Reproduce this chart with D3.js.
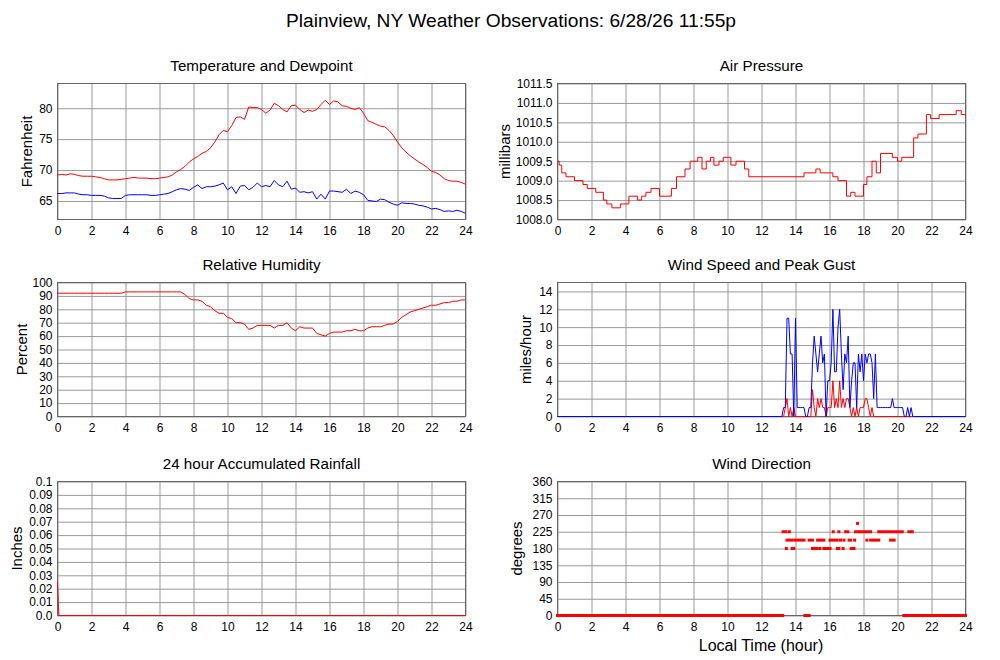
<!DOCTYPE html>
<html lang="en">
<head>
<meta charset="UTF-8" />
<title>Plainview, NY Weather Observations</title>
<style>
  body { margin: 0; background: #fff; }
  svg { display: block; font-family: "Liberation Sans", Arial, sans-serif; }
  .axis .domain { display: none; }
  .axis line { stroke: #999; }
  .axis text { font-family: "Liberation Sans", Arial, sans-serif; font-size: 12px; fill: #000; }
  .frame { fill: none; stroke: #666; }
  .ptitle { font-size: 15.2px; text-anchor: middle; }
  .ylabel { font-size: 15px; text-anchor: middle; }
</style>
</head>
<body>
<svg width="1000" height="660"></svg>
<script src="https://d3js.org/d3.v7.min.js"></script>
<script>
// temperature, dewpoint and humidity read every 15 minutes (index * STEP = hour)
const STEP = 0.25;

const tempF = [
  69.2, 69.3, 69.2, 69.4, 69.3, 69.1, 69.0, 69.0, 69.0, 68.9, 68.8, 68.6,
  68.4, 68.4, 68.4, 68.5, 68.6, 68.7, 68.8, 68.7, 68.7, 68.7, 68.6, 68.6,
  68.7, 68.8, 68.9, 69.2, 69.7, 70.1, 70.6, 71.3, 71.8, 72.2, 72.7, 73.0,
  73.6, 74.5, 75.7, 76.4, 76.2, 77.2, 78.5, 78.6, 78.2, 80.2, 80.1, 80.1,
  79.8, 79.2, 79.7, 80.8, 80.4, 79.8, 79.4, 80.4, 80.5, 79.8, 79.3, 79.7,
  79.5, 79.8, 80.6, 81.3, 80.6, 81.2, 81.0, 80.4, 80.3, 80.0, 79.8, 80.1,
  79.2, 78.0, 77.7, 77.4, 77.1, 77.0, 76.4, 75.6, 74.5, 73.6, 72.9, 72.3,
  71.8, 71.3, 70.9, 70.4, 69.8, 69.6, 69.2, 68.6, 68.3, 68.2, 68.2, 68.0,
  67.7
];

const dewF = [
  66.2, 66.2, 66.3, 66.3, 66.3, 66.1, 66.0, 66.0, 65.9, 65.9, 65.9, 65.8,
  65.5, 65.4, 65.4, 65.4, 65.9, 66.0, 66.0, 66.0, 66.0, 66.0, 65.9, 65.9,
  66.0, 66.1, 66.2, 66.5, 66.8, 67.0, 66.9, 66.7, 67.2, 67.6, 67.0, 67.3,
  67.3, 67.4, 67.6, 67.9, 66.8, 67.3, 66.2, 67.4, 67.5, 66.8, 67.2, 67.9,
  67.3, 67.5, 67.3, 68.3, 67.6, 67.3, 68.2, 66.9, 67.1, 66.4, 66.5, 66.3,
  66.5, 65.3, 66.1, 65.3, 66.6, 66.6, 66.5, 66.4, 66.9, 66.2, 66.6, 66.4,
  66.0, 65.1, 65.0, 64.9, 65.3, 65.2, 64.8, 64.5, 64.3, 64.7, 64.6, 64.6,
  64.5, 64.3, 64.2, 64.0, 63.7, 63.8, 63.6, 63.3, 63.4, 63.3, 63.5, 63.3,
  63.0
];

const humidity = [
  92, 92, 92, 92, 92, 92, 92, 92, 92, 92, 92, 92, 92, 92, 92, 92,
  93, 93, 93, 93, 93, 93, 93, 93, 93, 93, 93, 93, 93, 93, 91, 88,
  87, 87, 86, 83, 82, 79, 77, 77, 74, 73, 70, 70, 69, 65, 66, 68,
  68, 68, 68, 66, 68, 68, 70, 66, 64, 67, 66, 66, 66, 62, 61, 60,
  62, 63, 63, 63, 64, 64, 65, 64, 64, 66, 67, 67, 67, 68, 69, 69,
  71, 74, 76, 78, 79, 80, 81, 82, 83, 83, 84, 85, 85, 86, 86, 87,
  87
];

// pressure only changes in 0.1 mb steps: hour of each change and new value
const pressHours = [
  0, 0.1, 0.25, 0.5, 1.0, 1.5, 1.75, 2.25, 2.7, 2.9, 3.2, 3.7, 4.2, 4.7,
  4.95, 5.2, 5.5, 6.0, 6.7, 7.0, 7.5, 7.8, 8.25, 8.5, 8.75, 9.0, 9.2, 9.5,
  9.75, 10.2, 10.5, 11.0, 11.25, 14.5, 15.2, 15.45, 16.2, 16.5, 17.0, 17.25,
  17.5, 18.0, 18.2, 18.5, 18.75, 19.0, 19.7, 20.0, 20.25, 20.95, 21.2, 21.7,
  21.95, 22.45, 23.45, 23.75, 24
];
const pressMb = [
  1009.5, 1009.4, 1009.2, 1009.1, 1009.0, 1008.9, 1008.8, 1008.7, 1008.5,
  1008.4, 1008.3, 1008.4, 1008.6, 1008.5, 1008.6, 1008.7, 1008.8, 1008.6,
  1008.8, 1009.1, 1009.3, 1009.5, 1009.6, 1009.3, 1009.5, 1009.6, 1009.4,
  1009.5, 1009.6, 1009.4, 1009.5, 1009.3, 1009.1, 1009.2, 1009.3, 1009.2,
  1009.1, 1009.0, 1008.6, 1008.7, 1008.6, 1008.9, 1009.1, 1009.5, 1009.2,
  1009.7, 1009.6, 1009.5, 1009.6, 1010.1, 1010.2, 1010.7, 1010.6, 1010.7,
  1010.8, 1010.7, 1010.7
];

// wind: calm before 13.2 h and after 21 h
const windHours = [
  0,
  13.2, 13.3, 13.4, 13.5, 13.6, 13.7, 13.8, 13.9,
  14.0, 14.1, 14.2, 14.3, 14.4, 14.5, 14.6, 14.7, 14.8, 14.9,
  15.0, 15.1, 15.2, 15.3, 15.4, 15.5, 15.6, 15.7, 15.8, 15.9,
  16.0, 16.1, 16.2, 16.3, 16.4, 16.5, 16.6, 16.7, 16.8, 16.9,
  17.0, 17.1, 17.2, 17.3, 17.4, 17.5, 17.6, 17.7, 17.8, 17.9,
  18.0, 18.1, 18.2, 18.3, 18.4, 18.5, 18.6, 18.7, 18.8, 18.9,
  19.0, 19.1, 19.2, 19.3, 19.4, 19.5, 19.6, 19.7, 19.8, 19.9,
  20.0, 20.1, 20.2, 20.3, 20.4, 20.5, 20.6, 20.7, 20.8, 20.9,
  21.0,
  24
];
const gustMph = [
  0,
  0, 1, 1, 11, 11, 7, 7, 0,
  11, 1, 1, 1, 1, 1, 0, 0, 1, 1,
  6, 9, 7, 5, 7, 9, 6, 7, 0, 4,
  4, 6, 12, 5, 5, 10, 12, 7, 3, 7,
  6, 9, 1, 4, 6, 6, 1, 7, 5, 7,
  4, 7, 6, 7, 7, 6, 2, 7, 1, 1,
  1, 1, 1, 1, 1, 1, 1, 2, 1, 1,
  1, 1, 1, 1, 0, 0, 1, 0, 1, 0,
  0,
  0
];
const speedMph = [
  0,
  0, 0, 1, 2, 0, 1, 0, 1,
  0, 0, 0, 0, 0, 0, 0, 0, 0, 0,
  3, 1, 0, 2, 1, 2, 1, 1, 0, 1,
  1, 1, 4, 1, 2, 1, 4, 1, 2, 1,
  2, 2, 1, 0, 1, 0, 1, 0, 1, 1,
  1, 2, 2, 1, 0, 1, 0, 0, 0, 0,
  0, 0, 0, 0, 0, 0, 0, 0, 0, 0,
  0, 0, 0, 0, 0, 0, 0, 0, 0, 0,
  0,
  0
];

const rainHours = [0, 0.08, 24];
const rainIn = [0.025, 0, 0];

// wind direction: runs of observations [from hour, to hour, degrees]
const dirRuns = [
  [0, 13.25, 0], [13.27, 13.44, 225], [13.64, 13.64, 225], [13.46, 13.46, 180],
  [13.8, 13.9, 180], [13.5, 13.77, 202.5], [13.95, 14.5, 202.5], [14.55, 14.8, 0],
  [14.8, 15.0, 202.5], [15.0, 15.28, 180], [15.3, 15.67, 202.5], [15.44, 15.44, 180],
  [15.67, 16.03, 180], [16.03, 16.46, 202.5], [16.22, 16.22, 225], [16.55, 16.55, 225],
  [16.95, 17.08, 225], [17.53, 18.42, 225], [16.46, 16.55, 180], [16.8, 16.8, 180],
  [17.28, 17.44, 180], [16.65, 16.65, 202.5], [16.85, 16.85, 202.5], [17.15, 17.24, 202.5],
  [17.48, 17.48, 202.5], [17.65, 17.65, 247.5], [18.2, 18.2, 202.5], [18.42, 18.9, 202.5],
  [18.9, 20.28, 225], [19.6, 19.8, 202.5], [20.67, 20.87, 225], [20.37, 24, 0]
];

const hourTicks = [0, 2, 4, 6, 8, 10, 12, 14, 16, 18, 20, 22, 24];
const tempTicks = [65, 70, 75, 80];
const pressTicks = [1008, 1008.5, 1009, 1009.5, 1010, 1010.5, 1011, 1011.5];
const rhTicks = [0, 10, 20, 30, 40, 50, 60, 70, 80, 90, 100];
const windTicks = [0, 2, 4, 6, 8, 10, 12, 14];
const rainTicks = [0, 0.01, 0.02, 0.03, 0.04, 0.05, 0.06, 0.07, 0.08, 0.09, 0.1];
const dirTicks = [0, 45, 90, 135, 180, 225, 270, 315, 360];

const svg = d3.select("svg");

svg.append("text")
  .attr("x", 511)
  .attr("y", 27)
  .attr("text-anchor", "middle")
  .style("font-size", "19.2px")
  .text("Plainview, NY Weather Observations: 6/28/26 11:55p");

function panel(o) {
  const x = d3.scaleLinear().domain([0, 24]).range([o.left, o.left + 408]);
  const y = d3.scaleLinear().domain(o.domain).range([o.bottom, o.top]);
  const g = svg.append("g");

  g.append("g")
    .attr("class", "axis")
    .attr("transform", `translate(0,${o.bottom})`)
    .call(d3.axisBottom(x).tickValues(hourTicks).tickSize(-(o.bottom - o.top)).tickPadding(7).tickFormat(d3.format("d")));

  g.append("g")
    .attr("class", "axis")
    .attr("transform", `translate(${o.left},0)`)
    .call(d3.axisLeft(y).tickValues(o.ticks).tickSize(-408).tickPadding(5).tickFormat(o.format));

  g.append("rect")
    .attr("class", "frame")
    .attr("x", o.left)
    .attr("y", o.top)
    .attr("width", 408)
    .attr("height", o.bottom - o.top);

  g.append("text")
    .attr("class", "ptitle")
    .attr("x", o.left + 204)
    .attr("y", o.top - 13)
    .text(o.title);

  g.append("text")
    .attr("class", "ylabel")
    .attr("transform", `translate(${o.labelX},${(o.top + o.bottom) / 2}) rotate(-90)`)
    .attr("dy", "0.35em")
    .text(o.label);

  return { g, x, y };
}

function drawLine(p, xs, ys, color, curve) {
  const pts = xs.map((h, i) => [h, ys[i]]);
  p.g.append("path")
    .datum(pts)
    .attr("fill", "none")
    .attr("stroke", color)
    .attr("stroke-width", 1)
    .attr("d", d3.line().x(d => p.x(d[0])).y(d => p.y(d[1])).curve(curve || d3.curveLinear));
}

const idxHours = arr => arr.map((_, i) => i * STEP);

// Temperature and Dewpoint
const tp = panel({
  left: 57.5, top: 83.5, bottom: 219.5, domain: [62, 84], ticks: tempTicks,
  format: d3.format("d"), title: "Temperature and Dewpoint", label: "Fahrenheit", labelX: 27
});
drawLine(tp, idxHours(dewF), dewF, "#0000ff");
drawLine(tp, idxHours(tempF), tempF, "#ff0000");

// Air Pressure
const pp = panel({
  left: 557.5, top: 83.5, bottom: 219.5, domain: [1008, 1011.5], ticks: pressTicks,
  format: d3.format(".1f"), title: "Air Pressure", label: "millibars", labelX: 505
});
drawLine(pp, pressHours, pressMb, "#ff0000", d3.curveStepAfter);

// Relative Humidity
const hp = panel({
  left: 57.5, top: 282.5, bottom: 416.5, domain: [0, 100], ticks: rhTicks,
  format: d3.format("d"), title: "Relative Humidity", label: "Percent", labelX: 22
});
drawLine(hp, idxHours(humidity), humidity, "#ff0000");

// Wind Speed and Peak Gust
const wp = panel({
  left: 557.5, top: 282.5, bottom: 416.5, domain: [0, 15], ticks: windTicks,
  format: d3.format("d"), title: "Wind Speed and Peak Gust", label: "miles/hour", labelX: 526
});
drawLine(wp, windHours, speedMph, "#ff0000");
drawLine(wp, windHours, gustMph, "#0000ff");

// Rainfall
const rp = panel({
  left: 57.5, top: 481.5, bottom: 615.5, domain: [0, 0.1], ticks: rainTicks,
  format: d => d === 0 ? "0.0" : d3.format(".2~f")(d),
  title: "24 hour Accumulated Rainfall", label: "Inches", labelX: 17
});
drawLine(rp, rainHours, rainIn, "#ff0000");

// Wind Direction
const dp = panel({
  left: 557.5, top: 481.5, bottom: 615.5, domain: [0, 360], ticks: dirTicks,
  format: d3.format("d"), title: "Wind Direction", label: "degrees", labelX: 517
});
dp.g.append("g")
  .selectAll("rect")
  .data(dirRuns)
  .join("rect")
  .attr("x", d => dp.x(d[0]) - 1.5)
  .attr("y", d => dp.y(d[2]) - 1.5)
  .attr("width", d => dp.x(d[1]) - dp.x(d[0]) + 3)
  .attr("height", 3)
  .attr("fill", "#ff0000");

svg.append("text")
  .attr("x", 761)
  .attr("y", 651)
  .attr("text-anchor", "middle")
  .style("font-size", "16px")
  .text("Local Time (hour)");
</script>
</body>
</html>
